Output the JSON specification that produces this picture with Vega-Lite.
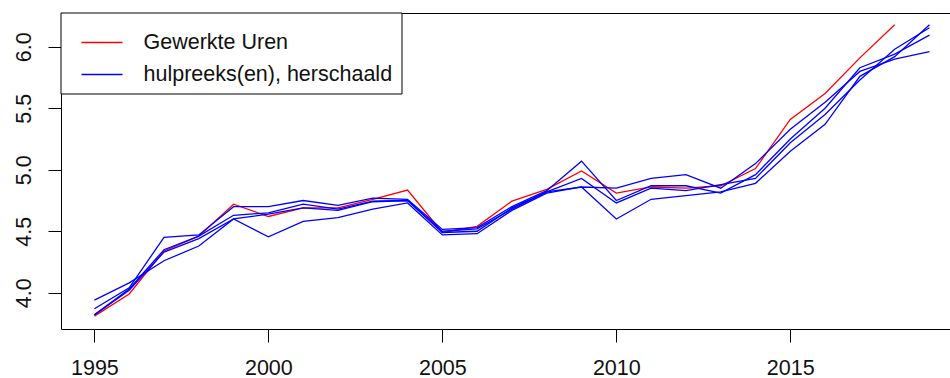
{
  "$schema": "https://vega.github.io/schema/vega-lite/v6.json",
  "width": 889,
  "height": 316,
  "autosize": "none",
  "padding": {"left": 61, "top": 13, "right": 0, "bottom": 49},
  "background": "white",
  "config": {
    "view": {"stroke": null},
    "axis": {
      "grid": false,
      "domainColor": "black",
      "domainWidth": 1,
      "tickColor": "black",
      "tickWidth": 1,
      "tickSize": 13,
      "labelFont": "Liberation Sans",
      "labelFontSize": 21.5,
      "labelColor": "#111111",
      "title": null
    },
    "legend": {
      "orient": "none",
      "legendX": -0.5,
      "legendY": -0.5,
      "strokeColor": "black",
      "fillColor": "white",
      "padding": 8.5,
      "rowPadding": -12,
      "symbolType": "stroke",
      "symbolSize": 1681,
      "symbolStrokeWidth": 1.3,
      "symbolOffset": 11.5,
      "labelFont": "Liberation Sans",
      "labelFontSize": 21.5,
      "labelColor": "#111111",
      "labelOffset": 20,
      "labelLimit": 500,
      "title": null
    }
  },
  "data": {
    "values": [
      {"jaar": 1995, "waarde": 3.81, "serie": "R", "reeks": "Gewerkte Uren"},
      {"jaar": 1996, "waarde": 3.99, "serie": "R", "reeks": "Gewerkte Uren"},
      {"jaar": 1997, "waarde": 4.34, "serie": "R", "reeks": "Gewerkte Uren"},
      {"jaar": 1998, "waarde": 4.46, "serie": "R", "reeks": "Gewerkte Uren"},
      {"jaar": 1999, "waarde": 4.72, "serie": "R", "reeks": "Gewerkte Uren"},
      {"jaar": 2000, "waarde": 4.62, "serie": "R", "reeks": "Gewerkte Uren"},
      {"jaar": 2001, "waarde": 4.69, "serie": "R", "reeks": "Gewerkte Uren"},
      {"jaar": 2002, "waarde": 4.69, "serie": "R", "reeks": "Gewerkte Uren"},
      {"jaar": 2003, "waarde": 4.76, "serie": "R", "reeks": "Gewerkte Uren"},
      {"jaar": 2004, "waarde": 4.835, "serie": "R", "reeks": "Gewerkte Uren"},
      {"jaar": 2005, "waarde": 4.49, "serie": "R", "reeks": "Gewerkte Uren"},
      {"jaar": 2006, "waarde": 4.54, "serie": "R", "reeks": "Gewerkte Uren"},
      {"jaar": 2007, "waarde": 4.745, "serie": "R", "reeks": "Gewerkte Uren"},
      {"jaar": 2008, "waarde": 4.84, "serie": "R", "reeks": "Gewerkte Uren"},
      {"jaar": 2009, "waarde": 4.99, "serie": "R", "reeks": "Gewerkte Uren"},
      {"jaar": 2010, "waarde": 4.81, "serie": "R", "reeks": "Gewerkte Uren"},
      {"jaar": 2011, "waarde": 4.86, "serie": "R", "reeks": "Gewerkte Uren"},
      {"jaar": 2012, "waarde": 4.85, "serie": "R", "reeks": "Gewerkte Uren"},
      {"jaar": 2013, "waarde": 4.87, "serie": "R", "reeks": "Gewerkte Uren"},
      {"jaar": 2014, "waarde": 5.01, "serie": "R", "reeks": "Gewerkte Uren"},
      {"jaar": 2015, "waarde": 5.41, "serie": "R", "reeks": "Gewerkte Uren"},
      {"jaar": 2016, "waarde": 5.62, "serie": "R", "reeks": "Gewerkte Uren"},
      {"jaar": 2017, "waarde": 5.91, "serie": "R", "reeks": "Gewerkte Uren"},
      {"jaar": 2018, "waarde": 6.18, "serie": "R", "reeks": "Gewerkte Uren"},

      {"jaar": 1995, "waarde": 3.94, "serie": "B1", "reeks": "hulpreeks(en), herschaald"},
      {"jaar": 1996, "waarde": 4.08, "serie": "B1", "reeks": "hulpreeks(en), herschaald"},
      {"jaar": 1997, "waarde": 4.26, "serie": "B1", "reeks": "hulpreeks(en), herschaald"},
      {"jaar": 1998, "waarde": 4.38, "serie": "B1", "reeks": "hulpreeks(en), herschaald"},
      {"jaar": 1999, "waarde": 4.60, "serie": "B1", "reeks": "hulpreeks(en), herschaald"},
      {"jaar": 2000, "waarde": 4.64, "serie": "B1", "reeks": "hulpreeks(en), herschaald"},
      {"jaar": 2001, "waarde": 4.69, "serie": "B1", "reeks": "hulpreeks(en), herschaald"},
      {"jaar": 2002, "waarde": 4.67, "serie": "B1", "reeks": "hulpreeks(en), herschaald"},
      {"jaar": 2003, "waarde": 4.74, "serie": "B1", "reeks": "hulpreeks(en), herschaald"},
      {"jaar": 2004, "waarde": 4.75, "serie": "B1", "reeks": "hulpreeks(en), herschaald"},
      {"jaar": 2005, "waarde": 4.50, "serie": "B1", "reeks": "hulpreeks(en), herschaald"},
      {"jaar": 2006, "waarde": 4.52, "serie": "B1", "reeks": "hulpreeks(en), herschaald"},
      {"jaar": 2007, "waarde": 4.68, "serie": "B1", "reeks": "hulpreeks(en), herschaald"},
      {"jaar": 2008, "waarde": 4.82, "serie": "B1", "reeks": "hulpreeks(en), herschaald"},
      {"jaar": 2009, "waarde": 4.86, "serie": "B1", "reeks": "hulpreeks(en), herschaald"},
      {"jaar": 2010, "waarde": 4.85, "serie": "B1", "reeks": "hulpreeks(en), herschaald"},
      {"jaar": 2011, "waarde": 4.93, "serie": "B1", "reeks": "hulpreeks(en), herschaald"},
      {"jaar": 2012, "waarde": 4.96, "serie": "B1", "reeks": "hulpreeks(en), herschaald"},
      {"jaar": 2013, "waarde": 4.85, "serie": "B1", "reeks": "hulpreeks(en), herschaald"},
      {"jaar": 2014, "waarde": 5.05, "serie": "B1", "reeks": "hulpreeks(en), herschaald"},
      {"jaar": 2015, "waarde": 5.33, "serie": "B1", "reeks": "hulpreeks(en), herschaald"},
      {"jaar": 2016, "waarde": 5.55, "serie": "B1", "reeks": "hulpreeks(en), herschaald"},
      {"jaar": 2017, "waarde": 5.80, "serie": "B1", "reeks": "hulpreeks(en), herschaald"},
      {"jaar": 2018, "waarde": 5.90, "serie": "B1", "reeks": "hulpreeks(en), herschaald"},
      {"jaar": 2019, "waarde": 5.96, "serie": "B1", "reeks": "hulpreeks(en), herschaald"},

      {"jaar": 1995, "waarde": 3.82, "serie": "B2", "reeks": "hulpreeks(en), herschaald"},
      {"jaar": 1996, "waarde": 4.02, "serie": "B2", "reeks": "hulpreeks(en), herschaald"},
      {"jaar": 1997, "waarde": 4.33, "serie": "B2", "reeks": "hulpreeks(en), herschaald"},
      {"jaar": 1998, "waarde": 4.44, "serie": "B2", "reeks": "hulpreeks(en), herschaald"},
      {"jaar": 1999, "waarde": 4.60, "serie": "B2", "reeks": "hulpreeks(en), herschaald"},
      {"jaar": 2000, "waarde": 4.455, "serie": "B2", "reeks": "hulpreeks(en), herschaald"},
      {"jaar": 2001, "waarde": 4.58, "serie": "B2", "reeks": "hulpreeks(en), herschaald"},
      {"jaar": 2002, "waarde": 4.61, "serie": "B2", "reeks": "hulpreeks(en), herschaald"},
      {"jaar": 2003, "waarde": 4.68, "serie": "B2", "reeks": "hulpreeks(en), herschaald"},
      {"jaar": 2004, "waarde": 4.73, "serie": "B2", "reeks": "hulpreeks(en), herschaald"},
      {"jaar": 2005, "waarde": 4.47, "serie": "B2", "reeks": "hulpreeks(en), herschaald"},
      {"jaar": 2006, "waarde": 4.48, "serie": "B2", "reeks": "hulpreeks(en), herschaald"},
      {"jaar": 2007, "waarde": 4.67, "serie": "B2", "reeks": "hulpreeks(en), herschaald"},
      {"jaar": 2008, "waarde": 4.81, "serie": "B2", "reeks": "hulpreeks(en), herschaald"},
      {"jaar": 2009, "waarde": 4.86, "serie": "B2", "reeks": "hulpreeks(en), herschaald"},
      {"jaar": 2010, "waarde": 4.60, "serie": "B2", "reeks": "hulpreeks(en), herschaald"},
      {"jaar": 2011, "waarde": 4.76, "serie": "B2", "reeks": "hulpreeks(en), herschaald"},
      {"jaar": 2012, "waarde": 4.79, "serie": "B2", "reeks": "hulpreeks(en), herschaald"},
      {"jaar": 2013, "waarde": 4.82, "serie": "B2", "reeks": "hulpreeks(en), herschaald"},
      {"jaar": 2014, "waarde": 4.89, "serie": "B2", "reeks": "hulpreeks(en), herschaald"},
      {"jaar": 2015, "waarde": 5.15, "serie": "B2", "reeks": "hulpreeks(en), herschaald"},
      {"jaar": 2016, "waarde": 5.37, "serie": "B2", "reeks": "hulpreeks(en), herschaald"},
      {"jaar": 2017, "waarde": 5.76, "serie": "B2", "reeks": "hulpreeks(en), herschaald"},
      {"jaar": 2018, "waarde": 5.92, "serie": "B2", "reeks": "hulpreeks(en), herschaald"},
      {"jaar": 2019, "waarde": 6.18, "serie": "B2", "reeks": "hulpreeks(en), herschaald"},

      {"jaar": 1995, "waarde": 3.87, "serie": "B3", "reeks": "hulpreeks(en), herschaald"},
      {"jaar": 1996, "waarde": 4.04, "serie": "B3", "reeks": "hulpreeks(en), herschaald"},
      {"jaar": 1997, "waarde": 4.45, "serie": "B3", "reeks": "hulpreeks(en), herschaald"},
      {"jaar": 1998, "waarde": 4.47, "serie": "B3", "reeks": "hulpreeks(en), herschaald"},
      {"jaar": 1999, "waarde": 4.70, "serie": "B3", "reeks": "hulpreeks(en), herschaald"},
      {"jaar": 2000, "waarde": 4.70, "serie": "B3", "reeks": "hulpreeks(en), herschaald"},
      {"jaar": 2001, "waarde": 4.75, "serie": "B3", "reeks": "hulpreeks(en), herschaald"},
      {"jaar": 2002, "waarde": 4.71, "serie": "B3", "reeks": "hulpreeks(en), herschaald"},
      {"jaar": 2003, "waarde": 4.77, "serie": "B3", "reeks": "hulpreeks(en), herschaald"},
      {"jaar": 2004, "waarde": 4.76, "serie": "B3", "reeks": "hulpreeks(en), herschaald"},
      {"jaar": 2005, "waarde": 4.515, "serie": "B3", "reeks": "hulpreeks(en), herschaald"},
      {"jaar": 2006, "waarde": 4.53, "serie": "B3", "reeks": "hulpreeks(en), herschaald"},
      {"jaar": 2007, "waarde": 4.70, "serie": "B3", "reeks": "hulpreeks(en), herschaald"},
      {"jaar": 2008, "waarde": 4.83, "serie": "B3", "reeks": "hulpreeks(en), herschaald"},
      {"jaar": 2009, "waarde": 5.07, "serie": "B3", "reeks": "hulpreeks(en), herschaald"},
      {"jaar": 2010, "waarde": 4.75, "serie": "B3", "reeks": "hulpreeks(en), herschaald"},
      {"jaar": 2011, "waarde": 4.87, "serie": "B3", "reeks": "hulpreeks(en), herschaald"},
      {"jaar": 2012, "waarde": 4.87, "serie": "B3", "reeks": "hulpreeks(en), herschaald"},
      {"jaar": 2013, "waarde": 4.81, "serie": "B3", "reeks": "hulpreeks(en), herschaald"},
      {"jaar": 2014, "waarde": 4.96, "serie": "B3", "reeks": "hulpreeks(en), herschaald"},
      {"jaar": 2015, "waarde": 5.25, "serie": "B3", "reeks": "hulpreeks(en), herschaald"},
      {"jaar": 2016, "waarde": 5.50, "serie": "B3", "reeks": "hulpreeks(en), herschaald"},
      {"jaar": 2017, "waarde": 5.83, "serie": "B3", "reeks": "hulpreeks(en), herschaald"},
      {"jaar": 2018, "waarde": 5.94, "serie": "B3", "reeks": "hulpreeks(en), herschaald"},
      {"jaar": 2019, "waarde": 6.095, "serie": "B3", "reeks": "hulpreeks(en), herschaald"},

      {"jaar": 1995, "waarde": 3.82, "serie": "B4", "reeks": "hulpreeks(en), herschaald"},
      {"jaar": 1996, "waarde": 4.03, "serie": "B4", "reeks": "hulpreeks(en), herschaald"},
      {"jaar": 1997, "waarde": 4.35, "serie": "B4", "reeks": "hulpreeks(en), herschaald"},
      {"jaar": 1998, "waarde": 4.46, "serie": "B4", "reeks": "hulpreeks(en), herschaald"},
      {"jaar": 1999, "waarde": 4.63, "serie": "B4", "reeks": "hulpreeks(en), herschaald"},
      {"jaar": 2000, "waarde": 4.65, "serie": "B4", "reeks": "hulpreeks(en), herschaald"},
      {"jaar": 2001, "waarde": 4.72, "serie": "B4", "reeks": "hulpreeks(en), herschaald"},
      {"jaar": 2002, "waarde": 4.68, "serie": "B4", "reeks": "hulpreeks(en), herschaald"},
      {"jaar": 2003, "waarde": 4.745, "serie": "B4", "reeks": "hulpreeks(en), herschaald"},
      {"jaar": 2004, "waarde": 4.75, "serie": "B4", "reeks": "hulpreeks(en), herschaald"},
      {"jaar": 2005, "waarde": 4.49, "serie": "B4", "reeks": "hulpreeks(en), herschaald"},
      {"jaar": 2006, "waarde": 4.50, "serie": "B4", "reeks": "hulpreeks(en), herschaald"},
      {"jaar": 2007, "waarde": 4.69, "serie": "B4", "reeks": "hulpreeks(en), herschaald"},
      {"jaar": 2008, "waarde": 4.82, "serie": "B4", "reeks": "hulpreeks(en), herschaald"},
      {"jaar": 2009, "waarde": 4.93, "serie": "B4", "reeks": "hulpreeks(en), herschaald"},
      {"jaar": 2010, "waarde": 4.73, "serie": "B4", "reeks": "hulpreeks(en), herschaald"},
      {"jaar": 2011, "waarde": 4.85, "serie": "B4", "reeks": "hulpreeks(en), herschaald"},
      {"jaar": 2012, "waarde": 4.83, "serie": "B4", "reeks": "hulpreeks(en), herschaald"},
      {"jaar": 2013, "waarde": 4.88, "serie": "B4", "reeks": "hulpreeks(en), herschaald"},
      {"jaar": 2014, "waarde": 4.93, "serie": "B4", "reeks": "hulpreeks(en), herschaald"},
      {"jaar": 2015, "waarde": 5.22, "serie": "B4", "reeks": "hulpreeks(en), herschaald"},
      {"jaar": 2016, "waarde": 5.45, "serie": "B4", "reeks": "hulpreeks(en), herschaald"},
      {"jaar": 2017, "waarde": 5.73, "serie": "B4", "reeks": "hulpreeks(en), herschaald"},
      {"jaar": 2018, "waarde": 5.98, "serie": "B4", "reeks": "hulpreeks(en), herschaald"},
      {"jaar": 2019, "waarde": 6.155, "serie": "B4", "reeks": "hulpreeks(en), herschaald"}
    ]
  },
  "encoding": {
    "y": {
      "field": "waarde",
      "type": "quantitative",
      "scale": {"domain": [3.705, 6.275], "nice": false, "zero": false},
      "axis": {
        "values": [4, 4.5, 5, 5.5, 6],
        "format": ".1f",
        "labelAngle": -90,
        "labelAlign": "center",
        "labelBaseline": "alphabetic",
        "labelPadding": 18
      }
    },
    "color": {
      "field": "reeks",
      "type": "nominal",
      "scale": {
        "domain": ["Gewerkte Uren", "hulpreeks(en), herschaald"],
        "range": ["#FF0000", "#0000FF"]
      },
      "legend": {
        "symbolType": "stroke",
        "encode": {
          "symbols": {
            "update": {
              "stroke": {"scale": "color", "field": "value"},
              "strokeWidth": {"value": 1.3},
              "opacity": {"value": 1}
            }
          }
        }
      }
    }
  },
  "layer": [
    {
      "transform": [{"filter": "datum.reeks == 'Gewerkte Uren'"}],
      "mark": {"type": "line", "strokeWidth": 1.3, "clip": true},
      "encoding": {
        "x": {
          "field": "jaar",
          "type": "quantitative",
          "scale": {"domain": [1994.04, 2019.59], "nice": false, "zero": false},
          "axis": {
            "orient": "bottom",
            "values": [1995, 2000, 2005, 2010, 2015],
            "format": "d",
            "labelPadding": 15,
            "labelFlush": false,
            "labelOverlap": false
          }
        }
      }
    },
    {
      "transform": [{"filter": "datum.reeks != 'Gewerkte Uren'"}],
      "mark": {"type": "line", "strokeWidth": 1.3, "clip": true},
      "encoding": {
        "x": {
          "field": "jaar",
          "type": "quantitative",
          "scale": {"domain": [1994.04, 2019.59], "nice": false, "zero": false},
          "axis": {"orient": "top", "labels": false, "ticks": false, "domain": true}
        },
        "detail": {"field": "serie", "type": "nominal"}
      }
    }
  ],
  "resolve": {"axis": {"x": "independent"}}
}
